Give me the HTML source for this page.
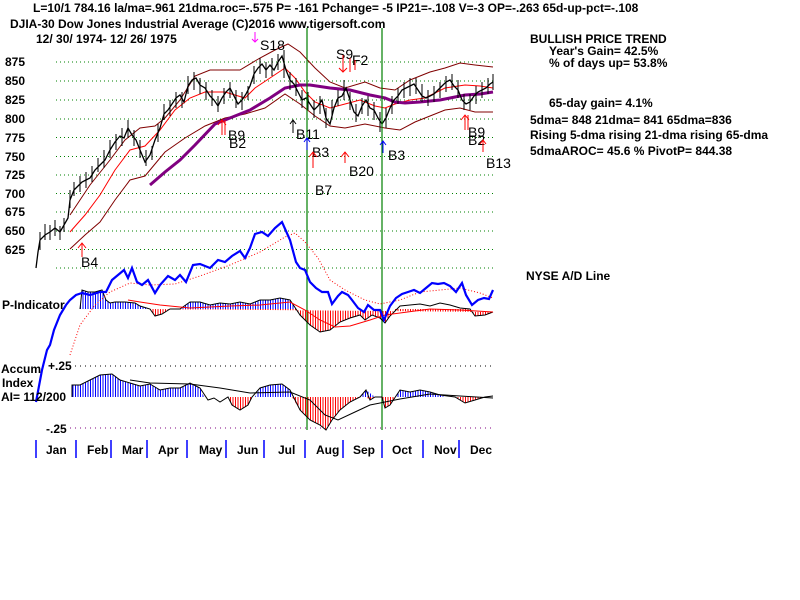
<!DOCTYPE html>
<html><head><meta charset="utf-8"><style>
body{margin:0;background:#fff}
svg{display:block}
text{font-family:"Liberation Sans",sans-serif;font-weight:bold;font-size:12px;fill:#000}
.b{font-size:14px;font-weight:normal}
</style></head><body>
<svg width="800" height="600" viewBox="0 0 800 600" xmlns="http://www.w3.org/2000/svg">
<defs>
<pattern id="bs" width="2.5" height="4" patternUnits="userSpaceOnUse"><rect width="1" height="4" fill="#0000ff"/></pattern>
<pattern id="rs" width="2.5" height="4" patternUnits="userSpaceOnUse"><rect width="1" height="4" fill="#ff0000"/></pattern>
</defs>
<rect width="800" height="600" fill="#fff"/>
<text x="33" y="12">L=10/1   784.16  la/ma=.961 21dma.roc=-.575 P= -161 Pchange= -5 IP21=-.108 V=-3 OP=-.263 65d-up-pct=-.108</text>
<text x="10" y="28">DJIA-30  Dow Jones Industrial Average    (C)2016 www.tigersoft.com</text>
<text x="36" y="43">12/ 30/ 1974- 12/ 26/ 1975</text>
<!-- grid -->
<g stroke="#008000" stroke-dasharray="1,3" stroke-width="1">
<line x1="56" y1="62" x2="493" y2="62"/><line x1="56" y1="81" x2="493" y2="81"/><line x1="56" y1="100" x2="493" y2="100"/><line x1="56" y1="119" x2="493" y2="119"/><line x1="56" y1="137.5" x2="493" y2="137.5"/><line x1="56" y1="156.5" x2="493" y2="156.5"/><line x1="56" y1="175" x2="493" y2="175"/><line x1="56" y1="193.5" x2="493" y2="193.5"/><line x1="56" y1="212" x2="493" y2="212"/><line x1="56" y1="231" x2="493" y2="231"/><line x1="56" y1="249.5" x2="493" y2="249.5"/><line x1="56" y1="268" x2="493" y2="268"/>
</g>
<g>
<text x="5" y="66">875</text><text x="5" y="85">850</text><text x="5" y="104">825</text><text x="5" y="123">800</text><text x="5" y="142">775</text><text x="5" y="161">750</text><text x="5" y="179">725</text><text x="5" y="198">700</text><text x="5" y="216">675</text><text x="5" y="235">650</text><text x="5" y="254">625</text>
</g>
<rect x="0" y="264" width="34" height="6" fill="#fff"/>
<!-- bands -->
<polyline fill="none" stroke="#800000" stroke-width="1" points="70,215 90,185 110,160 125,140 140,128 155,126 165,118 180,100 195,76 210,70 240,70 260,58 275,50 288,44 300,52 315,68 330,82 345,88 365,82 380,88 395,90 410,80 430,72 445,68 460,63 475,65 493,67"/>
<polyline fill="none" stroke="#ff0000" stroke-width="1" points="70,232 85,215 100,195 115,170 130,150 145,146 160,130 175,110 190,98 205,92 225,92 245,98 255,88 270,78 285,68 295,78 305,92 315,102 330,108 345,104 360,100 375,106 385,108 395,104 410,100 425,98 445,88 465,85 480,86 493,88"/>
<polyline fill="none" stroke="#800000" stroke-width="1" points="70,249 85,235 100,222 115,200 130,180 145,176 165,152 185,138 205,126 225,118 245,114 265,108 285,94 300,104 315,116 330,126 345,128 365,124 385,128 400,130 415,122 430,116 445,110 460,108 475,112 493,112"/>
<polyline fill="none" stroke="#800080" stroke-width="3" points="150,185 165,172 180,160 195,145 215,124 230,118 250,110 270,98 285,88 300,85 310,85 330,88 350,90 370,95 385,98 395,102 405,103 420,102 440,100 455,97 465,95 480,94 493,92"/>
<!-- price -->
<polyline fill="none" stroke="#000" stroke-width="1.3" points="36,268 38,252 40,240 45,235 50,232 55,228 60,232 64,225 68,218 70,200 74,190 78,186 82,182 86,180 90,178 95,170 100,165 105,160 110,150 115,142 120,136 124,138 128,128 132,135 136,140 140,150 145,162 150,155 155,140 160,128 164,114 168,110 172,104 176,98 180,95 184,102 188,86 192,80 196,78 200,85 205,88 210,96 214,100 218,106 222,98 226,92 230,88 234,96 238,104 242,100 246,94 250,86 254,74 258,68 262,64 266,70 270,65 274,70 278,62 282,56 286,70 290,80 294,84 298,92 302,100 306,98 310,104 314,110 318,106 322,100 326,118 330,124 334,108 338,98 342,96 346,88 350,100 354,112 358,116 362,106 366,100 370,108 374,110 378,118 382,124 386,118 390,108 394,100 398,96 402,90 406,88 410,86 414,84 418,90 422,96 426,98 430,96 434,94 438,90 442,86 446,82 450,80 454,86 458,90 462,100 466,104 470,102 474,96 478,92 482,90 486,88 490,84 493,82"/>
<g stroke="#000" stroke-width="1">
<path d="M40,232V250M45,224V240M50,225V240M55,220V236M60,226V240M64,218V232M70,190V208M74,182V196M80,176V192M86,172V188M92,166V182M98,158V172M104,150V168M110,140V158M116,134V150M122,128V146M128,120V138M134,130V146M140,140V158M146,150V166M152,146V160M158,124V142M164,104V120M170,100V116M176,92V108M182,92V108M188,76V94M194,72V90M200,78V94M206,82V100M212,90V106M218,96V112M224,88V104M230,82V98M236,90V108M242,92V110M248,86V100M254,66V84M260,58V74M266,62V78M272,58V76M278,54V70M284,50V78M290,72V90M296,78V96M302,90V108M308,92V110M314,100V118M320,96V114M326,108V128M332,100V118M338,90V106M344,80V100M350,92V110M356,104V122M362,98V114M368,96V116M374,102V120M380,112V132M386,108V128M392,96V114M398,88V104M404,82V98M410,78V96M416,78V94M422,84V102M428,90V106M434,86V102M440,82V98M446,76V92M452,74V90M458,80V98M464,94V110M470,94V110M476,86V104M482,82V98M488,78V94M493,74V90"/>
</g>
<!-- vertical green -->
<line x1="307" y1="28" x2="307" y2="430" stroke="#008000" stroke-width="1.2"/>
<line x1="382" y1="28" x2="382" y2="430" stroke="#008000" stroke-width="1.2"/>
<!-- signals -->
<g class="b">
<text x="260" y="50" class="b">S18</text>
<text x="228" y="140" class="b">B9</text><text x="229" y="148" class="b">B2</text>
<text x="296" y="139" class="b">B11</text>
<text x="312" y="157" class="b">B3</text>
<text x="315" y="195" class="b">B7</text>
<text x="349" y="176" class="b">B20</text>
<text x="388" y="160" class="b">B3</text>
<text x="468" y="137" class="b">B9</text><text x="468" y="145" class="b">B2</text>
<text x="486" y="168" class="b">B13</text>
<text x="81" y="267" class="b">B4</text>
<text x="336" y="59" class="b">S9</text><text x="352" y="65" class="b">F2</text>
</g>
<g stroke="#ff0000" fill="none" stroke-width="1">
<path d="M222,135V120M218,125L222,120L226,125M225,135V120"/>
<path d="M465,130V115M461,120L465,115L469,120M468,130V115"/>
<path d="M483,152V140M480,144L483,140L486,144"/>
<path d="M82,257V243M78,248L82,243L86,248"/>
<path d="M313,168V152M309,157L313,152L317,157"/>
<path d="M345,163V152M341,157L345,152L349,157"/>
<path d="M343,55V72M339,68L343,72L347,68M350,58V72M355,60V70"/>
</g>
<g stroke="#0000ff" fill="none"><path d="M307,150V138M304,142L307,138L310,142M383,153V141M380,145L383,141L386,145"/></g>
<g stroke="#000" fill="none"><path d="M293,133V120M290,124L293,120L296,124"/></g>
<g stroke="#ff00ff" fill="none"><path d="M255,32V42M252,39L255,42L258,39"/></g>
<!-- right text -->
<text x="530" y="43">BULLISH PRICE TREND</text>
<text x="549" y="55">Year's Gain= 42.5%</text>
<text x="549" y="67">% of days up= 53.8%</text>
<text x="549" y="107">65-day gain= 4.1%</text>
<text x="530" y="124">5dma= 848 21dma= 841 65dma=836</text>
<text x="530" y="139">Rising 5-dma  rising 21-dma  rising 65-dma</text>
<text x="530" y="155">5dmaAROC= 45.6 %  PivotP= 844.38</text>
<text x="526" y="280">NYSE A/D Line</text>
<!-- P indicator -->
<polygon fill="url(#bs)" points="80,309 82,290 88,292 95,292 102,290 106,300 110,303 115,302 125,302 135,303 140,306 150,309 180,309 190,302 200,302 210,305 220,303 230,304 240,302 250,304 260,300 270,300 280,298 290,300 296,309"/>
<polygon fill="url(#rs)" points="150,309 155,316 162,314 170,309 296,309 300,315 310,325 320,332 330,330 340,322 350,318 360,315 365,320 372,315 380,318 385,323 390,316 395,309 400,309 470,309 475,316 485,315 493,312"/>
<polyline fill="none" stroke="#000" stroke-width="1" points="80,309 82,290 88,292 95,292 102,290 106,300 110,303 115,302 125,302 135,303 140,306 150,309 155,316 162,314 170,309 180,309 190,302 200,302 210,305 220,303 230,304 240,302 250,304 260,300 270,300 280,298 290,300 296,309 300,315 310,325 320,332 330,330 340,322 350,318 360,315 365,320 372,315 380,318 385,323 390,316 400,306 410,305 420,304 430,306 440,303 450,305 460,308 470,309 475,316 485,315 493,312"/>
<polyline fill="none" stroke="#ff0000" stroke-width="1" points="128,300 140,302 160,305 190,308 230,306 260,305 290,302 305,310 320,320 335,327 350,326 370,320 385,315 400,313 430,309 460,310 493,312"/>
<!-- A/D line -->
<polyline fill="none" stroke="#ff0000" stroke-width="1" stroke-dasharray="1,2" points="70,355 80,325 95,305 110,292 130,283 150,285 175,284 200,276 230,265 260,252 285,237 295,233 305,242 318,258 330,280 345,290 365,300 380,304 400,300 420,292 440,290 460,288 480,293 493,298"/>
<polyline fill="none" stroke="#0000ff" stroke-width="2.2" points="36,402 42,370 47,350 50,345 54,330 60,315 66,305 70,300 76,295 82,293 90,295 100,292 106,292 112,280 118,275 124,270 128,278 132,268 137,282 142,285 148,280 155,293 160,285 168,276 175,280 180,275 186,282 193,265 200,264 210,268 218,260 225,262 232,256 240,251 245,258 250,248 255,234 262,232 268,236 275,228 282,222 290,240 296,262 300,268 305,270 310,282 316,288 322,292 328,292 332,304 338,296 342,292 348,295 352,300 358,308 364,312 368,305 374,310 380,310 384,320 390,306 396,298 402,294 408,292 414,290 420,293 426,288 432,283 438,284 444,283 450,286 456,292 462,283 466,295 472,305 478,300 484,298 489,299 493,290"/>
<text x="2" y="309">P-Indicator</text>
<!-- Accum index -->
<line x1="70" y1="366" x2="493" y2="366" stroke="#000" stroke-dasharray="1,4"/>
<line x1="70" y1="428" x2="493" y2="428" stroke="#800080" stroke-dasharray="1,4"/>
<text x="1" y="373">Accum</text><text x="48" y="370" font-weight="normal">+.25</text>
<text x="2" y="387">Index</text>
<text x="1" y="401">AI= 112/200</text>
<text x="46" y="433" font-weight="normal">-.25</text>
<polygon fill="url(#bs)" points="72,397 72,385 80,385 90,380 100,375 112,374 120,380 130,383 140,386 150,384 160,390 170,388 180,388 190,383 200,388 204,397 255,397 260,388 270,385 282,384 290,390 292,397 360,397 366,390 375,397 395,397 400,390 410,392 420,390 430,392 440,395 445,397"/>
<polygon fill="url(#rs)" points="228,397 232,405 240,410 248,405 252,397 292,397 300,410 310,420 320,425 326,430 332,420 340,410 350,402 360,397 366,397 370,400 375,397 382,397 385,408 390,405 395,397 455,397 465,403 475,400 485,397"/>
<polyline fill="none" stroke="#000" stroke-width="1" points="72,397 72,385 80,385 90,380 100,375 112,374 120,380 130,383 140,386 150,384 160,390 170,388 180,388 190,383 200,388 208,400 214,398 220,402 228,397 232,405 240,410 248,405 252,397 260,388 270,385 282,384 290,390 300,410 310,420 320,425 326,430 332,420 340,410 350,402 360,397 366,390 370,400 375,397 382,397 385,408 390,405 400,390 410,392 420,390 430,392 440,395 455,397 465,403 475,400 485,397 493,396"/>
<polyline fill="none" stroke="#000" stroke-width="1" points="130,380 150,383 190,384 220,388 250,393 290,392 310,400 325,415 338,420 355,412 370,405 385,402 400,399 430,394 460,396 493,398"/>
<!-- months -->
<g stroke="#0000ff" stroke-width="1.5">
<path d="M36,440V458M76,440V458M111,440V458M147,440V458M187,440V458M226,440V458M264,440V458M305,440V458M343,440V458M382,440V458M423,440V458M459,440V458"/>
</g>
<g>
<text x="46" y="454">Jan</text><text x="87" y="454">Feb</text><text x="122" y="454">Mar</text><text x="158" y="454">Apr</text><text x="199" y="454">May</text><text x="237" y="454">Jun</text><text x="278" y="454">Jul</text><text x="316" y="454">Aug</text><text x="353" y="454">Sep</text><text x="392" y="454">Oct</text><text x="434" y="454">Nov</text><text x="470" y="454">Dec</text>
</g>
</svg>
</body></html>
